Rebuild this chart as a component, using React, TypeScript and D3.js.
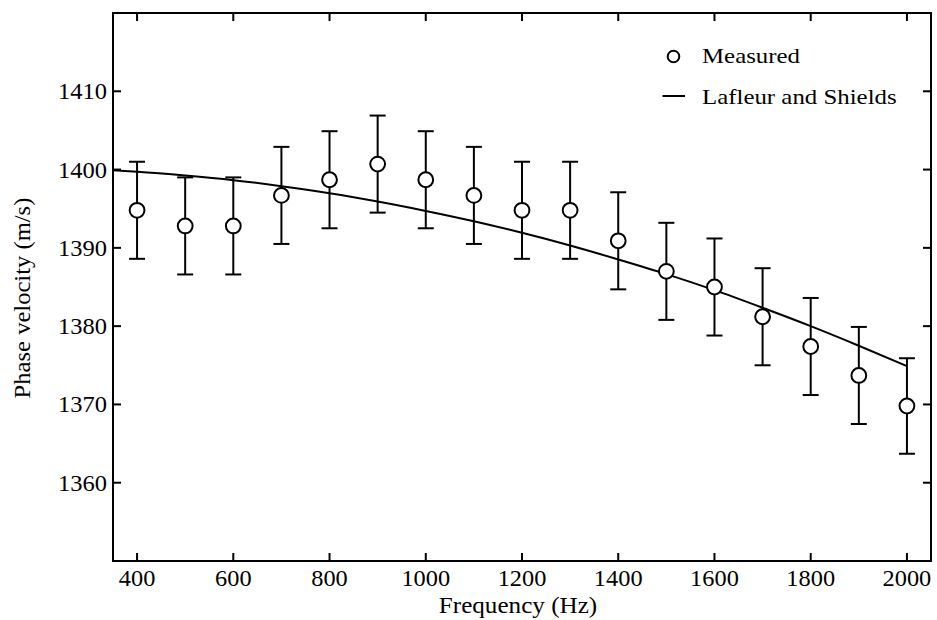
import React from "react";
import * as d3 from "d3";

const freqs = [400, 500, 600, 700, 800, 900, 1000, 1100, 1200, 1300, 1400, 1500, 1600, 1700, 1800, 1900, 2000];
const measured = [1394.8, 1392.8, 1392.8, 1396.7, 1398.7, 1400.7, 1398.7, 1396.7, 1394.8, 1394.8, 1390.9, 1387.0, 1385.0, 1381.2, 1377.4, 1373.7, 1369.8];
const errors = [6.2, 6.2, 6.2, 6.2, 6.2, 6.2, 6.2, 6.2, 6.2, 6.2, 6.2, 6.2, 6.2, 6.2, 6.2, 6.2, 6.1];

const modelFreqs = [350, 400, 500, 600, 700, 800, 900, 1000, 1100, 1200, 1300, 1400, 1500, 1600, 1700, 1800, 1900, 2000];
const modelValues = [1399.9, 1399.72, 1399.24, 1398.65, 1397.88, 1396.98, 1395.92, 1394.72, 1393.4, 1391.92, 1390.3, 1388.52, 1386.65, 1384.6, 1382.35, 1380.0, 1377.5, 1374.9];

const xTicks = [400, 600, 800, 1000, 1200, 1400, 1600, 1800, 2000];
const yTicks = [1360, 1370, 1380, 1390, 1400, 1410];

const W = 937;
const H = 620;
const M = { left: 113, top: 13, right: 6, bottom: 59 };
const FONT = "Liberation Serif";

function Txt(props: { x: number; y: number; size: number; sx: number; anchor?: string; rotate?: number; children: React.ReactNode }) {
  const { x, y, size, sx, anchor = "start", rotate = 0, children } = props;
  return (
    <text
      transform={`translate(${x},${y}) rotate(${rotate}) scale(${sx},1)`}
      textAnchor={anchor as any}
      style={{ fontFamily: FONT, fontSize: size }}
      fill="#000"
    >
      {children}
    </text>
  );
}

export default function App() {
  const x = d3.scaleLinear().domain([350, 2050]).range([M.left, W - M.right]);
  const y = d3.scaleLinear().domain([1350, 1420]).range([H - M.bottom, M.top]);
  const line = d3
    .line<number>()
    .x((_, i) => x(modelFreqs[i]))
    .y((d) => y(d))
    .curve(d3.curveMonotoneX);
  const x0 = M.left, x1 = W - M.right, y0 = M.top, y1 = H - M.bottom;
  const tl = 8;
  const cap = 8;

  return (
    <div style={{ position: "absolute", left: 0, top: 0 }}>
      <svg width={W} height={H} style={{ display: "block", background: "#fff" }}>
        <rect x={0} y={0} width={W} height={H} fill="#fff" />
        <path d={line(modelValues) || ""} fill="none" stroke="#000" strokeWidth={2} />
        {freqs.map((f, i) => (
          <g key={"e" + f} stroke="#000" strokeWidth={2}>
            <line x1={x(f)} x2={x(f)} y1={y(measured[i] + errors[i])} y2={y(measured[i] - errors[i])} />
            <line x1={x(f) - cap} x2={x(f) + cap} y1={y(measured[i] + errors[i])} y2={y(measured[i] + errors[i])} />
            <line x1={x(f) - cap} x2={x(f) + cap} y1={y(measured[i] - errors[i])} y2={y(measured[i] - errors[i])} />
          </g>
        ))}
        {freqs.map((f, i) => (
          <circle key={"c" + f} cx={x(f)} cy={y(measured[i])} r={7.4} fill="#fff" stroke="#000" strokeWidth={2} />
        ))}
        <rect x={x0} y={y0} width={x1 - x0} height={y1 - y0} fill="none" stroke="#000" strokeWidth={2} />
        {xTicks.map((t) => (
          <g key={"xt" + t}>
            <line x1={x(t)} x2={x(t)} y1={y1} y2={y1 - tl} stroke="#000" strokeWidth={2} />
            <line x1={x(t)} x2={x(t)} y1={y0} y2={y0 + tl} stroke="#000" strokeWidth={2} />
            <Txt x={x(t)} y={y1 + 24.5} size={23} sx={1.06} anchor="middle">{t}</Txt>
          </g>
        ))}
        {yTicks.map((t) => (
          <g key={"yt" + t}>
            <line x1={x0} x2={x0 + tl} y1={y(t)} y2={y(t)} stroke="#000" strokeWidth={2} />
            <line x1={x1} x2={x1 - tl} y1={y(t)} y2={y(t)} stroke="#000" strokeWidth={2} />
            <Txt x={x0 - 6} y={y(t) + 8} size={22.5} sx={1.09} anchor="end">{t}</Txt>
          </g>
        ))}
        <Txt x={518} y={613} size={23.5} sx={1.07} anchor="middle">Frequency (Hz)</Txt>
        <Txt x={30} y={298} size={23} sx={1.07} anchor="middle" rotate={-90}>Phase velocity (m/s)</Txt>
        <circle cx={673.5} cy={56.5} r={5.8} fill="#fff" stroke="#000" strokeWidth={2} />
        <Txt x={702} y={62.7} size={22} sx={1.13}>Measured</Txt>
        <line x1={662.5} x2={685} y1={96} y2={96} stroke="#000" strokeWidth={2} />
        <Txt x={702} y={104.3} size={22} sx={1.13}>Lafleur and Shields</Txt>
      </svg>
    </div>
  );
}
